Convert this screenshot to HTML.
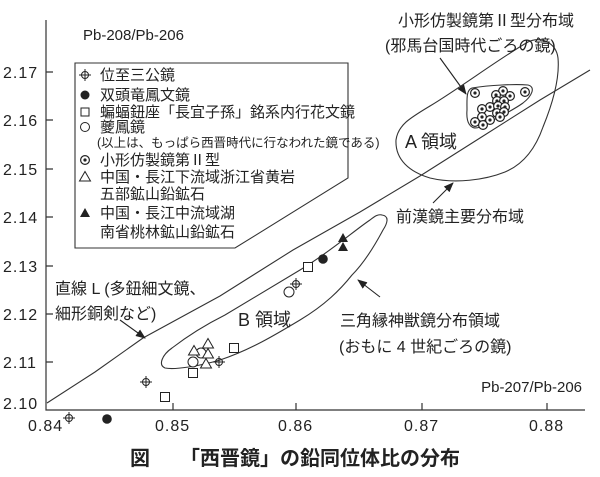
<!DOCTYPE html>
<html><head><meta charset="utf-8"><style>
html,body{margin:0;padding:0;background:#fff;}
svg{display:block;}
text{font-family:"Liberation Sans","Noto Sans CJK JP",sans-serif;fill:#222;}
</style></head><body>
<svg width="600" height="477" viewBox="0 0 600 477" xmlns="http://www.w3.org/2000/svg">
<defs>
<marker id="ar" markerWidth="10" markerHeight="8" refX="9" refY="4" orient="auto" markerUnits="userSpaceOnUse"><path d="M0,0 L10,4 L0,8 Z" fill="#222"/></marker>
<g id="bull"><circle r="4.4" fill="#fff" stroke="#222" stroke-width="1.2"/><circle r="1.6" fill="#222"/></g>
<g id="cross"><circle r="3.5" fill="none" stroke="#222" stroke-width="1"/><path d="M-6,0H6M0,-6V6" stroke="#222" stroke-width="1"/></g>
<g id="sq"><rect x="-4.5" y="-4.5" width="9" height="9" fill="#fff" stroke="#222" stroke-width="1"/></g>
<g id="oc"><circle r="5" fill="#fff" stroke="#222" stroke-width="1"/></g>
<g id="ot"><path d="M0,-5.5 L5.5,4 L-5.5,4 Z" fill="#fff" stroke="#222" stroke-width="1"/></g>
<g id="ft"><path d="M0,-5 L5,4 L-5,4 Z" fill="#222"/></g>
</defs>
<g stroke="#333" stroke-width="1.2" fill="none">
<path d="M46,20 V410 H585"/>
<path d="M46,72h7M46,120h7M46,169h7M46,217h7M46,266h7M46,314h7M46,362h7"/>
<path d="M173,410v-7M296,410v-7M422,410v-7M547,410v-7"/>
</g>
<g font-size="16" letter-spacing="1">
<text x="3" y="78">2.17</text><text x="3" y="126">2.16</text><text x="3" y="175">2.15</text>
<text x="3" y="223">2.14</text><text x="3" y="272">2.13</text><text x="3" y="320">2.12</text>
<text x="3" y="368">2.11</text><text x="3" y="409">2.10</text>
<text x="28" y="431">0.84</text><text x="155" y="431">0.85</text><text x="278" y="431">0.86</text>
<text x="404" y="431">0.87</text><text x="529" y="431">0.88</text>
</g>
<text x="83" y="40" font-size="15">Pb-208/Pb-206</text>
<text x="582" y="392" font-size="15" text-anchor="end">Pb-207/Pb-206</text>
<path d="M75,63 H348 V178 L235,248 H75 Z" fill="#fff" stroke="#333" stroke-width="1.1"/>
<g font-size="15">
<use href="#cross" x="85" y="75"/><text x="100" y="80">位至三公鏡</text>
<circle cx="85" cy="95" r="4.5" fill="#222"/><text x="100" y="100">双頭竜鳳文鏡</text>
<rect x="81" y="108" width="8" height="8" fill="#fff" stroke="#222"/><text x="100" y="117">蝙蝠鈕座「長宜子孫」銘系内行花文鏡</text>
<circle cx="85" cy="127" r="4.5" fill="#fff" stroke="#222"/><text x="100" y="132">夔鳳鏡</text>
<text x="97" y="147" font-size="12.5">(以上は、もっぱら西晋時代に行なわれた鏡である)</text>
<use href="#bull" x="85" y="160"/><text x="100" y="165">小形仿製鏡第Ⅱ型</text>
<use href="#ot" x="85" y="177"/><text x="100" y="182">中国・長江下流域浙江省黄岩</text>
<text x="100" y="199">五部鉱山鉛鉱石</text>
<use href="#ft" x="85" y="213"/><text x="100" y="218">中国・長江中流域湖</text>
<text x="100" y="237">南省桃林鉱山鉛鉱石</text>
</g>
<path d="M47,403 L95,372 L143,338 L220,296 L293,250 L360,212 L420,176 L480,138 L540,100 L590,70" fill="none" stroke="#333" stroke-width="1.1"/>
<path d="M528,42 C540,36 556,42 558,58 C560,80 552,105 543,127 C535,150 522,165 505,172 C485,180 455,184 430,178 C410,172 395,160 396,140 C398,125 410,118 430,106 C460,88 500,58 528,42 Z" fill="none" stroke="#333" stroke-width="1.1"/>
<path d="M472,88 C490,85 515,84 528,85 C536,87 532,96 523,103 C512,111 497,118 480,127 C470,131 466,122 467,110 C467,100 466,90 472,88 Z" fill="none" stroke="#333" stroke-width="1.1"/>
<path d="M382,215 C390,216 387,224 383,230 C375,245 365,262 352,275 C340,290 325,305 300,320 C275,335 250,350 220,360 C200,366 175,370 165,368 C158,365 162,355 172,348 C185,338 205,325 225,315 C250,300 275,285 300,270 C330,252 355,230 370,220 C375,216 378,214 382,215 Z" fill="none" stroke="#333" stroke-width="1.1"/>
<g stroke="#222" stroke-width="1.1" fill="none" marker-end="url(#ar)">
<path d="M440,58 L466,94"/>
<path d="M433,203 L453,183"/>
<path d="M380,297 L358,280"/>
<path d="M120,320 L145,338"/>
</g>
<g font-size="16">
<text x="398" y="26">小形仿製鏡第Ⅱ型分布域</text>
<text x="385" y="51">(邪馬台国時代ごろの鏡)</text>
<text x="396" y="222">前漢鏡主要分布域</text>
<text x="340" y="326">三角縁神獣鏡分布領域</text>
<text x="339" y="352">(おもに 4 世紀ごろの鏡)</text>
<text x="55" y="294">直線 L (多鈕細文鏡、</text>
<text x="55" y="319">細形銅剣など)</text>
</g>
<text x="405" y="148" font-size="18">A 領域</text>
<text x="238" y="326" font-size="18">B 領域</text>
<g>
<use href="#bull" x="475" y="93"/><use href="#bull" x="503" y="91"/><use href="#bull" x="496" y="95"/>
<use href="#bull" x="510" y="96"/><use href="#bull" x="525" y="92"/><use href="#bull" x="497" y="101"/>
<use href="#bull" x="504" y="101"/><use href="#bull" x="490" y="107"/><use href="#bull" x="498" y="106"/>
<use href="#bull" x="505" y="107"/><use href="#bull" x="482" y="109"/><use href="#bull" x="497" y="113"/>
<use href="#bull" x="504" y="112"/><use href="#bull" x="482" y="117"/><use href="#bull" x="500" y="117"/>
<use href="#bull" x="475" y="122"/><use href="#bull" x="490" y="120"/><use href="#bull" x="483" y="125"/>
</g>
<use href="#cross" x="146" y="382"/><use href="#cross" x="219" y="362"/><use href="#cross" x="296" y="284"/><use href="#cross" x="69" y="418"/>
<circle cx="107" cy="419" r="4.8" fill="#222"/><circle cx="323" cy="259" r="4.8" fill="#222"/>
<use href="#sq" x="165" y="397"/><use href="#sq" x="193" y="373"/><use href="#sq" x="234" y="348"/><use href="#sq" x="308" y="267"/>
<use href="#oc" x="193" y="362"/><use href="#oc" x="289" y="292"/><use href="#oc" x="201" y="353"/>
<use href="#ot" x="194" y="351"/><use href="#ot" x="208" y="344"/><use href="#ot" x="208" y="354"/><use href="#ot" x="206" y="364"/>
<use href="#ft" x="343" y="238"/><use href="#ft" x="343" y="247"/>
<text x="130" y="465" font-size="20" font-weight="bold">図</text>
<text x="180" y="465" font-size="20" font-weight="bold">「西晋鏡」の鉛同位体比の分布</text>
</svg>
</body></html>
